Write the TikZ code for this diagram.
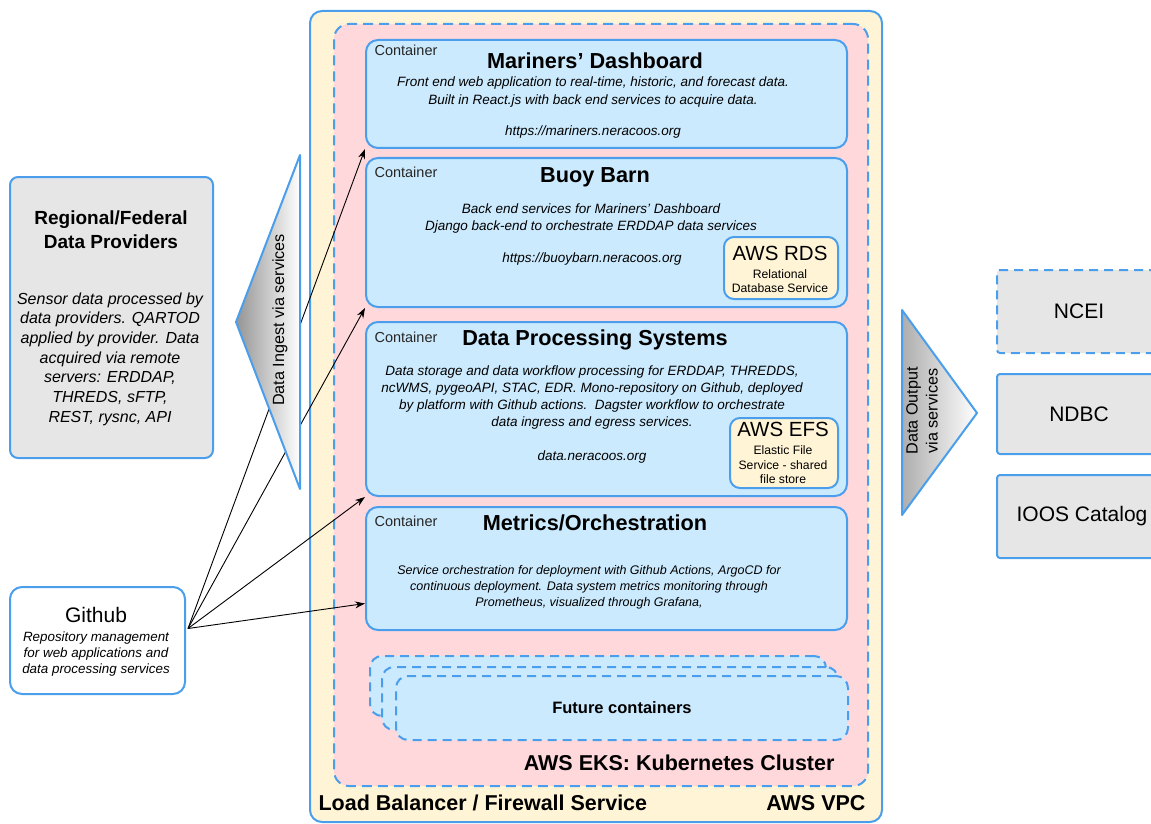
\documentclass[tikz,border=0pt]{standalone}
\usepackage{fontspec}
\setmainfont{Liberation Sans}
\usetikzlibrary{positioning, arrows.meta, calc}

\definecolor{lineblue}{RGB}{74,158,235}
\definecolor{vpcfill}{RGB}{255,245,214}
\definecolor{eksfill}{RGB}{255,216,220}
\definecolor{contfill}{RGB}{204,234,253}
\definecolor{greyfill}{RGB}{230,230,230}

\begin{document}
\begin{tikzpicture}[
  x=1pt, y=-1pt,
  base/.style={
    inner sep=0pt, align=center, anchor=north west,
    draw=lineblue, line width=2pt,
  },
  vpcbox/.style={base, fill=vpcfill, rounded corners=12pt},
  eksbox/.style={base, fill=eksfill, rounded corners=15pt,
    dash pattern=on 10pt off 6pt},
  contbox/.style={base, fill=contfill, rounded corners=12pt},
  futbox/.style={contbox, dash pattern=on 9pt off 6pt,
    font=\fontsize{16.5}{20}\selectfont\bfseries},
  awsbox/.style={base, fill=vpcfill, rounded corners=10pt},
  srcbox/.style={base, fill=greyfill, rounded corners=8pt},
  ghbox/.style={base, fill=white, rounded corners=12pt},
  outbox/.style={base, fill=greyfill, rounded corners=3pt,
    font=\fontsize{21}{25}\selectfont},
  tagl/.style={font=\fontsize{14.5}{17}\selectfont, text=black!85,
    anchor=west},
  titlel/.style={font=\fontsize{21.7}{26}\selectfont\bfseries},
  descl/.style={font=\fontsize{13.5}{17.5}\selectfont\itshape,
    align=center},
  awsl/.style={font=\fontsize{20.5}{24}\selectfont},
  awssub/.style={font=\fontsize{12.2}{14.2}\selectfont, align=center},
  framel/.style={font=\fontsize{21.5}{25}\selectfont\bfseries},
  flowl/.style={font=\fontsize{16.2}{19.5}\selectfont, rotate=90,
    align=center},
  ingarr/.style={-{Stealth[length=10pt, width=7pt]}, line width=0.9pt},
  funnel/.style={draw=lineblue, line width=2pt, line join=round},
]

\useasboundingbox (0,0) rectangle (1151,824);

% Container column
\def\cL{365}
\def\cW{481}
\def\tX{595}
\def\tL{371}

% ---- AWS VPC and EKS cluster ----
\node[vpcbox, minimum width=572pt, minimum height=811pt] (vpc) at (309,10) {};
\node[eksbox, minimum width=534pt, minimum height=762pt] (eks) at (333,23) {};
\node[framel, anchor=east] (ekslbl) at (838,763) {AWS EKS: Kubernetes Cluster};
\node[framel, anchor=west] (lblbl) at (315,803) {Load Balancer / Firewall Service};
\node[framel, anchor=east] (vpclbl) at (869,803) {AWS VPC};

% ======== Mariners' Dashboard ========
\node[contbox, minimum width=\cW pt, minimum height=108pt] (md) at (\cL,39) {};
\node[tagl] (mdtag) at (\tL,50) {Container};
\node[titlel] (mdtitle) at (\tX,61) {Mariners’ Dashboard};
\node[descl] (mddesc) at (593,92) {Front end web application to real-time, historic, and forecast data.\\
  Built in React.js with back end services to acquire data.};
\node[descl] (mdurl) at (593,132) {https://mariners.neracoos.org};

% ======== Buoy Barn ========
\node[contbox, minimum width=\cW pt, minimum height=149pt] (bb) at (\cL,157) {};
\node[tagl] (bbtag) at (\tL,172) {Container};
\node[titlel] (bbtitle) at (\tX,177) {Buoy Barn};
\node[descl, font=\fontsize{13.5}{17}\selectfont\itshape] (bbdesc) at (591,219)
  {Back end services for Mariners’ Dashboard\\
  Django back-end to orchestrate ERDDAP data services};
\node[descl] (bburl) at (592,259) {https://buoybarn.neracoos.org};
\node[awsbox, minimum width=114pt, minimum height=62pt] (rds) at (723,236) {};
\node[awsl] (rdslbl) at (780,253) {AWS RDS};
\node[awssub] (rdssub) at (780,281) {Relational\\Database Service};

% ======== Data Processing Systems ========
\node[contbox, minimum width=\cW pt, minimum height=174pt] (dps) at (\cL,321) {};
\node[tagl] (dpstag) at (\tL,337) {Container};
\node[titlel] (dpstitle) at (\tX,340) {Data Processing Systems};
\node[descl, font=\fontsize{13.5}{17}\selectfont\itshape] (dpsdesc) at (592,398)
  {Data storage and data workflow processing for ERDDAP, THREDDS,\\
  ncWMS, pygeoAPI, STAC, EDR. Mono-repository on Github, deployed\\
  by platform with Github actions.\ \ Dagster workflow to orchestrate\\
  data ingress and egress services.};
\node[descl] (dpsurl) at (592,457) {data.neracoos.org};
\node[awsbox, minimum width=108pt, minimum height=70pt] (efs) at (729,417) {};
\node[awsl] (efslbl) at (783,429) {AWS EFS};
\node[awssub, font=\fontsize{12.2}{14.5}\selectfont] (efssub) at (783,465)
  {Elastic File\\Service - shared\\file store};

% ======== Metrics/Orchestration ========
\node[contbox, minimum width=\cW pt, minimum height=123pt] (mo) at (\cL,506) {};
\node[tagl] (motag) at (\tL,521) {Container};
\node[titlel] (motitle) at (\tX,523) {Metrics/Orchestration};
\node[descl, font=\fontsize{12.5}{16}\selectfont\itshape] (modesc) at (589,587)
  {Service orchestration for deployment with Github Actions, ArgoCD for\\
  continuous deployment. Data system metrics monitoring through\\
  Prometheus, visualized through Grafana,};

% ---- Future containers ----
\node[futbox, minimum width=456pt, minimum height=60pt] (fut1) at (369,655) {};
\node[futbox, minimum width=456pt, minimum height=63pt] (fut2) at (381,666) {};
\node[futbox, minimum width=452pt, minimum height=64pt] (fut3) at (395,675) {Future containers};

% ---- Sources ----
\node[srcbox, minimum width=203pt, minimum height=281pt] (rfdp) at (9,176) {};
\node[font=\fontsize{19}{24}\selectfont\bfseries, align=center] (rfdptitle) at (111,230)
  {Regional/Federal\\Data Providers};
\node[font=\fontsize{16}{19.7}\selectfont\itshape, align=center] (rfdpdesc) at (110,359)
  {Sensor data processed by\\data providers. QARTOD\\applied by provider. Data\\
  acquired via remote\\servers: ERDDAP,\\THREDS, sFTP,\\REST, rysnc, API};

\node[ghbox, minimum width=175pt, minimum height=107pt] (gh) at (9,586) {};
\node[font=\fontsize{21}{25}\selectfont] (ghtitle) at (96,615) {Github};
\node[font=\fontsize{13.4}{16}\selectfont\itshape, align=center] (ghdesc) at (96,654)
  {Repository management\\for web applications and\\data processing services};

% ---- Github -> containers ----
\coordinate (ghout) at ($(gh.north east)!0.39!(gh.south east)+(2,0)$);
\draw[ingarr] (ghout) -- (md.south west);
\draw[ingarr] (ghout) -- (bb.south west);
\draw[ingarr] (ghout) -- (dps.south west);
\draw[ingarr] (ghout) -- ($(mo.south west)!0.22!(mo.north west)$);

% ---- Data ingest / output funnels ----
\path[funnel, left color=black!42, right color=white]
  (300,155) -- (236,322) -- (300,489) -- cycle;
\node[flowl] (ingest) at (280,320) {Data Ingest via services};

\path[funnel, left color=black!32, right color=white]
  (902,310) -- (977,413) -- (902,515) -- cycle;
\node[flowl, font=\fontsize{16.2}{20}\selectfont] (output) at (922,411) {Data Output\\via services};

% ---- Output targets ----
\node[outbox, minimum width=164pt, minimum height=83pt,
  dash pattern=on 9pt off 6pt] (ncei) at (996,269) {NCEI};
\node[outbox, minimum width=164pt, minimum height=80pt] (ndbc) at (996,373) {NDBC};
\node[outbox, minimum width=170pt, minimum height=83pt] (ioos) at (996,474) {IOOS Catalog};

\end{tikzpicture}
\end{document}
